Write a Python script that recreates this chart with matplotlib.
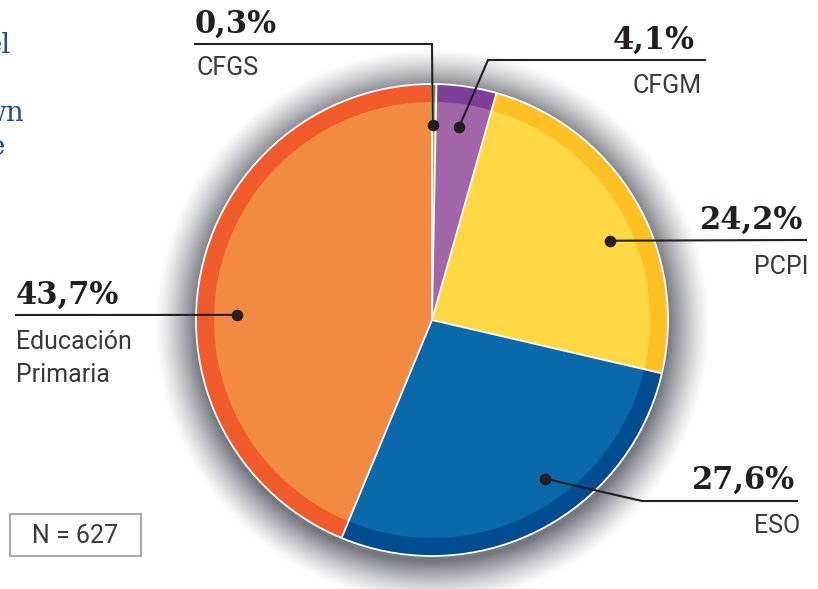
import numpy as np
import matplotlib.pyplot as plt
from matplotlib.patches import Rectangle, Circle

# data
labels = ["CFGS", "CFGM", "PCPI", "ESO", "Educación\nPrimaria"]
values = [0.3, 4.1, 24.2, 27.6, 43.7]
pct_labels = ["0,3%", "4,1%", "24,2%", "27,6%", "43,7%"]
n_total = 627

main_colors = ["#8dc63f", "#a265a8", "#ffd843", "#0a69ab", "#f38a42"]
rim_colors = ["#6fa534", "#7f3f98", "#fec124", "#004c91", "#f15a2a"]

W, H = 818, 589
DARK = "#231f20"
LABEL_GREY = "#3a3a3a"


def py(y):
    # pixel row (from top) -> data y
    return H - y


fig = plt.figure(figsize=(W / 100, H / 100), dpi=100)
ax = fig.add_axes([0, 0, 1, 1])

cx, cy = 432, 320
R = 236
rim_w = 18

# soft grey shadow round the pie
yy, xx = np.mgrid[0:H, 0:W]
d = np.hypot(xx - cx, yy - (cy + 5))
t = np.clip((d - R) / 42.0, 0, 1)
fade = (1 - t) ** 1.3
base = np.array([0.46, 0.47, 0.50])
img = 1 - (1 - base)[None, None, :] * fade[:, :, None]
ax.imshow(img, extent=(0, W, 0, H), origin="upper", zorder=0,
          interpolation="bilinear")

# pie: darker rim, lighter body
ax.pie(values, colors=rim_colors, startangle=90, counterclock=False,
       center=(cx, py(cy)), radius=R, wedgeprops=dict(linewidth=0))
ax.pie(values, colors=main_colors, startangle=90, counterclock=False,
       center=(cx, py(cy)), radius=R - rim_w, wedgeprops=dict(linewidth=0))

# white separators and outer edge
frac = np.cumsum([0] + values) / sum(values)
for f in frac[:-1]:
    a = np.deg2rad(90 - 360 * f)
    ax.plot([cx, cx + R * np.cos(a)], [py(cy), py(cy) + R * np.sin(a)],
            color="white", lw=1.3, zorder=5, solid_capstyle="butt")
ax.add_patch(Circle((cx, py(cy)), R, fill=False, ec="white", lw=1.3, zorder=5))

# label anchors (angle clockwise from top, degrees) and leader paths (pixels)
dot_angles = [0.2, 8, 66, 144.5, 271.5]
dot_r = 195
elbows = [[(432, 44), (195, 44)],
          [(488, 60), (705, 60)],
          [(806, 240)],
          [(642, 501), (797, 501)],
          [(16, 315)]]
pct_pos = [(195, 33, "left"), (695, 49, "right"), (803, 229, "right"),
           (795, 489, "right"), (16, 304, "left")]
name_pos = [(197, 75, "left"), (702, 93, "right"), (808, 274, "right"),
            (800, 533, "right"), (16, 349, "left")]

for i in range(len(values)):
    a = np.deg2rad(dot_angles[i])
    dx = cx + dot_r * np.sin(a)
    dy = cy - dot_r * np.cos(a)
    pts = [(dx, dy)] + elbows[i]
    ax.plot([p[0] for p in pts], [py(p[1]) for p in pts], color=DARK,
            lw=1.5, zorder=6, solid_joinstyle="miter")
    ax.scatter([dx], [py(dy)], s=70, color=DARK, zorder=7, linewidths=0)

    x, y, ha = pct_pos[i]
    ax.text(x, py(y), pct_labels[i], ha=ha, va="baseline", fontsize=22,
            family="DejaVu Serif", fontweight="bold", color=DARK, zorder=8)
    x, y, ha = name_pos[i]
    lines = labels[i].split("\n")
    for j, line in enumerate(lines):
        ax.text(x, py(y + 33 * j), line, ha=ha, va="baseline", fontsize=18,
                family="Roboto", fontweight="normal", color=LABEL_GREY, zorder=8)

# sample size box
ax.add_patch(Rectangle((10, py(556)), 131, 42, fill=False, ec="#aaaaaa",
                       lw=1.5, zorder=8))
ax.text(75.5, py(543), f"N = {n_total}", ha="center", va="baseline",
        fontsize=18, family="Roboto", fontweight="normal", color=LABEL_GREY)

# cut-off heading text on the left edge (clipped in the reference too)
for txt, x, y in [("el", 11, 53), ("wn", 24, 121), ("e", 5, 155)]:
    ax.text(x, py(y), txt, ha="right", va="baseline", fontsize=20,
            family="DejaVu Serif", color="#1d4f91")

ax.set_xlim(0, W)
ax.set_ylim(0, H)
ax.set_aspect("auto")
ax.axis("off")

fig.savefig("out.png", dpi=100)
